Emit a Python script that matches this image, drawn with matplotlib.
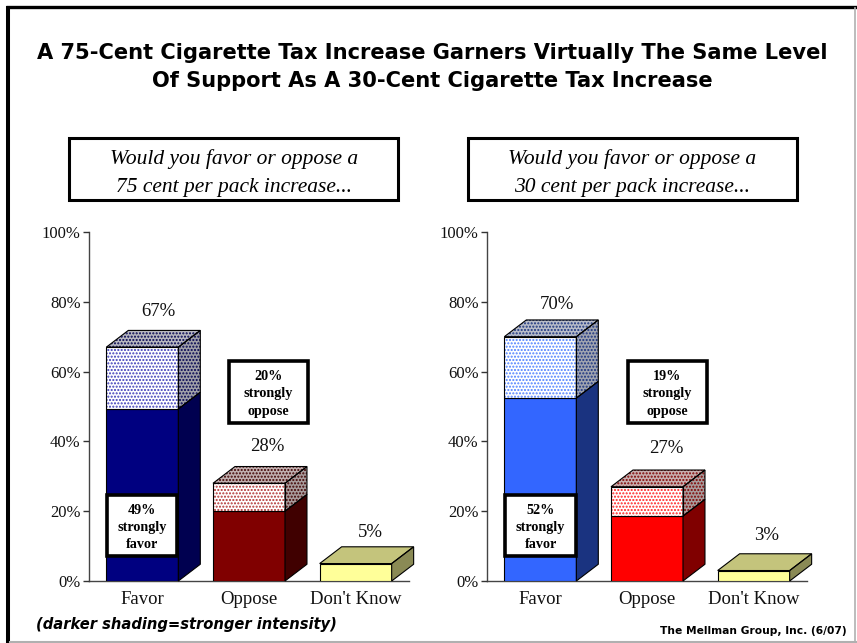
import matplotlib
matplotlib.use("Agg")
import matplotlib.pyplot as plt
from matplotlib.patches import Polygon, Rectangle

title_text = "A 75-Cent Cigarette Tax Increase Garners Virtually The Same Level\nOf Support As A 30-Cent Cigarette Tax Increase"
categories = ["Favor", "Oppose", "Don't Know"]
yticks = [0, 20, 40, 60, 80, 100]

left_totals = [67, 28, 5]
left_strong = [49.3, 20, 0]
right_totals = [70, 27, 3]
right_strong = [52.4, 18.6, 0]

left_question = "Would you favor or oppose a\n75 cent per pack increase..."
right_question = "Would you favor or oppose a\n30 cent per pack increase..."

SERIF = "Liberation Serif"
SANS = "DejaVu Sans"
W, H = 857, 643
BAR_W = 0.675
DX = 0.206
DY = 4.8

plt.rcParams["hatch.linewidth"] = 1.0

fig = plt.figure(figsize=(W / 100, H / 100), dpi=100, facecolor="white")

# overlay in pixel coordinates for the slide furniture
bg = fig.add_axes([0, 0, 1, 1], zorder=0)
bg.set_xlim(0, W)
bg.set_ylim(H, 0)
bg.axis("off")
overlay = fig.add_axes([0, 0, 1, 1], zorder=5)
overlay.set_xlim(0, W)
overlay.set_ylim(H, 0)
overlay.axis("off")
overlay.patch.set_alpha(0)


def box(x0, y0, x1, y1, lw):
    overlay.add_patch(Rectangle((x0, y0), x1 - x0, y1 - y0, fc="white", ec="black", lw=lw, zorder=6))


def face(ax, pts, fc, dots=None):
    # flat colour, then optional dots, then the black outline
    ax.add_patch(Polygon(pts, closed=True, fc=fc, ec="none", clip_on=False, zorder=2))
    if dots:
        ax.add_patch(Polygon(pts, closed=True, fill=False, ec=dots, lw=0, hatch=".....", clip_on=False, zorder=2))
    ax.add_patch(Polygon(pts, closed=True, fill=False, ec="black", lw=0.8, clip_on=False, zorder=3))


def draw_panel(x_px, totals, strong, colors, nudges):
    ax = fig.add_axes([x_px / W, (H - 581) / H, 320 / W, 349 / H], zorder=2)
    ax.patch.set_alpha(0)
    ax.set_xlim(-0.5, 2.5)
    ax.set_ylim(0, 100)
    for i, (tot, st) in enumerate(zip(totals, strong)):
        x0, x1 = i - BAR_W / 2, i + BAR_W / 2
        solid, side, pale_dots, top_bg, side_bg = colors[i]
        if st > 0:
            ax.bar(i, st, BAR_W, color=solid, edgecolor="black", lw=0.8, zorder=2)
            face(ax, [(x1, 0), (x1 + DX, DY), (x1 + DX, st + DY), (x1, st)], side)
            face(ax, [(x0, st), (x1, st), (x1, tot), (x0, tot)], "white", pale_dots)
            face(ax, [(x1, st), (x1 + DX, st + DY), (x1 + DX, tot + DY), (x1, tot)], side_bg, side)
            face(ax, [(x0, tot), (x1, tot), (x1 + DX, tot + DY), (x0 + DX, tot + DY)], top_bg, side)
        else:
            ax.bar(i, tot, BAR_W, color=solid, edgecolor="black", lw=0.8, zorder=2)
            face(ax, [(x1, 0), (x1 + DX, DY), (x1 + DX, tot + DY), (x1, tot)], side)
            face(ax, [(x0, tot), (x1, tot), (x1 + DX, tot + DY), (x0 + DX, tot + DY)], top_bg)
        ax.annotate(f"{tot}%", (i + DX / 2, tot + DY + 3.2), xytext=nudges[i], textcoords="offset pixels",
                    ha="center", va="bottom", family=SERIF, fontsize=13.5, color="#111111",
                    annotation_clip=False)
    ax.set_xticks(range(3))
    ax.set_xticklabels(categories, family=SERIF, fontsize=13.5, color="#111111")
    ax.set_yticks(yticks)
    ax.set_yticklabels([f"{v}%" for v in yticks], family=SERIF, fontsize=12, color="#111111")
    ax.tick_params(axis="x", length=0, pad=7)
    ax.tick_params(axis="y", length=4, width=1, color="#333333", pad=2)
    for s in ["top", "right"]:
        ax.spines[s].set_visible(False)
    for s in ["left", "bottom"]:
        ax.spines[s].set_color("#444444")
        ax.spines[s].set_linewidth(1.0)
        ax.spines[s].set_zorder(1)
    return ax


left_colors = [
    ("#000080", "#000050", "#3a3ab8", "#b8b8c0", "#a0a0a8"),
    ("#800000", "#400000", "#b03030", "#c0b0b0", "#a89c9c"),
    ("#ffff99", "#8a8a55", None, "#c4c47c", None),
]
right_colors = [
    ("#3366ff", "#1a3380", "#4d80ff", "#b8bcc8", "#a0a4b0"),
    ("#ff0000", "#800000", "#ff2020", "#c8b0b0", "#a89c9c"),
    ("#ffff99", "#8a8a55", None, "#c4c47c", None),
]
left_nudges = [(5, -1), (7, 0), (4, -5)]
right_nudges = [(6, -4), (8, 2), (2, -1)]

draw_panel(89, left_totals, left_strong, left_colors, left_nudges)
draw_panel(487, right_totals, right_strong, right_colors, right_nudges)

# slide frame
bg.plot([8, 8], [H, 6], color="black", lw=2.9, solid_capstyle="butt")
bg.plot([6, W], [6.5, 6.5], color="black", lw=2.4, solid_capstyle="butt")
bg.plot([855.5, 855.5], [8, 641], color="#b0b0b0", lw=1.2)
bg.plot([10, W], [641.5, 641.5], color="#b0b0b0", lw=1.5)

overlay.text(432, 67, title_text, ha="center", va="center", family=SANS, weight="bold",
             fontsize=15.1, linespacing=1.5, color="black")

box(69, 138, 398, 200, 2.2)
box(468, 138, 797, 200, 2.2)
overlay.text(234, 173, left_question, ha="center", va="center", family=SERIF, style="italic",
             fontsize=15.5, linespacing=1.6, zorder=7)
overlay.text(632.5, 173, right_question, ha="center", va="center", family=SERIF, style="italic",
             fontsize=15.5, linespacing=1.6, zorder=7)

callouts = [
    (107, 495, 177, 556, "49%\nstrongly\nfavor"),
    (229, 361, 308, 423, "20%\nstrongly\noppose"),
    (505, 495, 576, 556, "52%\nstrongly\nfavor"),
    (628, 361, 707, 423, "19%\nstrongly\noppose"),
]
for x0, y0, x1, y1, label in callouts:
    box(x0, y0, x1, y1, 2.6)
    overlay.text((x0 + x1) / 2, (y0 + y1) / 2 + 2, label, ha="center", va="center", family=SERIF,
                 weight="bold", fontsize=10.2, linespacing=1.45, zorder=7)

overlay.text(36, 625, "(darker shading=stronger intensity)", ha="left", va="center", family=SANS,
             weight="bold", style="italic", fontsize=10.6)
overlay.text(847, 631, "The Mellman Group, Inc. (6/07)", ha="right", va="center", family=SANS,
             weight="bold", fontsize=7.7)

fig.savefig("out.png", dpi=100)
